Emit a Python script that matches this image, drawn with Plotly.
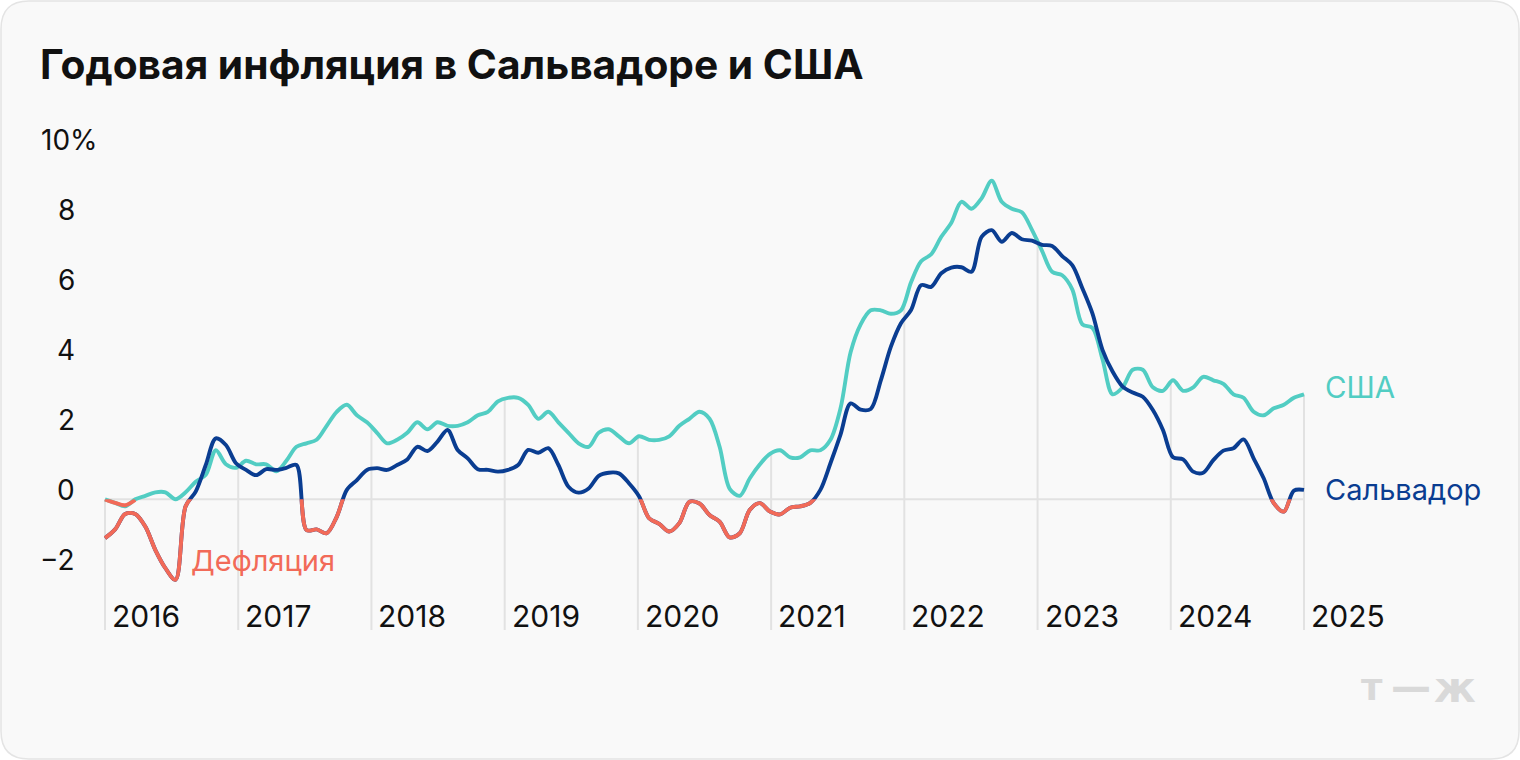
import numpy as np
import plotly.graph_objects as go

# ---------------- data (monthly) ----------------
years = [2016, 2017, 2018, 2019, 2020, 2021, 2022, 2023, 2024, 2025]
year_labels = [str(y) for y in years]

usa = [0.0, -0.1, -0.2, 0.0, 0.1, 0.2, 0.2, 0.0, 0.2, 0.5, 0.7,
       1.4, 1.0, 0.9, 1.1, 1.0, 1.0, 0.8, 1.1, 1.5, 1.6, 1.7, 2.1,
       2.5, 2.7, 2.4, 2.2, 1.9, 1.6, 1.7, 1.9, 2.2, 2.0, 2.2, 2.1,
       2.1, 2.2, 2.4, 2.5, 2.8, 2.9, 2.9, 2.7, 2.3, 2.5, 2.2, 1.9,
       1.6, 1.5, 1.9, 2.0, 1.8, 1.6, 1.8, 1.7, 1.7, 1.8, 2.1, 2.3,
       2.5, 2.3, 1.5, 0.3, 0.1, 0.6, 1.0, 1.3, 1.4, 1.2, 1.2, 1.4,
       1.4, 1.7, 2.6, 4.2, 5.0, 5.4, 5.4, 5.3, 5.4, 6.2, 6.8, 7.0,
       7.5, 7.9, 8.5, 8.3, 8.6, 9.1, 8.5, 8.3, 8.2, 7.7, 7.1, 6.5,
       6.4, 6.0, 5.0, 4.9, 4.0, 3.0, 3.2, 3.7, 3.7, 3.2, 3.1, 3.4,
       3.1, 3.2, 3.5, 3.4, 3.3, 3.0, 2.9, 2.5, 2.4, 2.6, 2.7, 2.9,
       3.0]

salvador = [-1.11, -0.86, -0.42, -0.42, -0.78, -1.45, -1.97, -2.30, -0.20, 0.22,
            0.98, 1.74, 1.55, 1.03, 0.84, 0.69, 0.86, 0.84, 0.90, 0.98,
            -0.88, -0.86, -0.97, -0.50, 0.27, 0.55, 0.84, 0.89, 0.84, 0.98,
            1.14, 1.50, 1.38, 1.65, 1.98, 1.41, 1.17, 0.86, 0.84, 0.79,
            0.84, 0.98, 1.41, 1.33, 1.46, 0.98, 0.36, 0.19, 0.31, 0.67,
            0.76, 0.74, 0.46, 0.09, -0.54, -0.70, -0.92, -0.68, -0.07, -0.12,
            -0.45, -0.64, -1.09, -0.97, -0.30, -0.11, -0.35, -0.43, -0.24, -0.20,
            -0.10, 0.27, 1.03, 1.85, 2.74, 2.56, 2.58, 3.40, 4.36, 5.03,
            5.41, 6.12, 6.07, 6.46, 6.62, 6.63, 6.50, 7.50, 7.69, 7.36,
            7.61, 7.43, 7.39, 7.27, 7.24, 6.95, 6.69, 6.03, 5.31, 4.27,
            3.65, 3.22, 3.05, 2.93, 2.55, 1.98, 1.20, 1.14, 0.79, 0.76,
            1.12, 1.39, 1.46, 1.71, 1.17, 0.60, -0.11, -0.35, 0.25, 0.27]

# small red stroke seen at the very start of the chart
red_start = [0.0, -0.10, -0.17, -0.02]

y_ticks = [10, 8, 6, 4, 2, 0, -2]

# ---------------- geometry ----------------
W, H = 1520, 760
PL, PR, PT, PB = 85, 1320, 120, 640       # plot area in pixels
X0PX, XPERYEAR = 105.0, 1199.0 / 9.0      # 2016 gridline at 105 px
ZEROPX, PXPERUNIT = 499.3, 35.0

x_lo = years[0] - (X0PX - PL) / XPERYEAR
x_hi = years[0] + (PR - X0PX) / XPERYEAR
y_lo = (ZEROPX - PB) / PXPERUNIT
y_hi = (ZEROPX - PT) / PXPERUNIT
zero_frac = (0 - y_lo) / (y_hi - y_lo)

n = len(usa)
xpos = [years[0] + (years[-1] - years[0]) * i / (n - 1) for i in range(n)]

C_US = "#52cdc3"
C_SV = "#0a3d91"
C_RED = "#f26a58"
FONT = "Inter"
LW = 3.9


def pxx(X):
    return (X - PL) / (PR - PL)


def pxy(Y):
    return (PB - Y) / (PB - PT)


fig = go.Figure()
line_kw = dict(width=LW, shape="spline", smoothing=0.9)
fig.add_trace(go.Scatter(x=xpos, y=usa, mode="lines", line=dict(color=C_US, **line_kw),
                         hoverinfo="skip", showlegend=False))
fig.add_trace(go.Scatter(x=xpos, y=salvador, mode="lines", line=dict(color=C_SV, **line_kw),
                         hoverinfo="skip", showlegend=False))
# negative part of El Salvador in red: same line on an axis clipped below zero
fig.add_trace(go.Scatter(x=xpos, y=salvador, mode="lines", line=dict(color=C_RED, **line_kw),
                         yaxis="y2", hoverinfo="skip", showlegend=False))
fig.add_trace(go.Scatter(x=xpos[:len(red_start)], y=red_start, mode="lines",
                         line=dict(color=C_RED, **line_kw),
                         yaxis="y2", hoverinfo="skip", showlegend=False))

shapes = []
# card background with rounded corners
r = 28
X0c, Y0c, X1c, Y1c = 1, 1, W - 1, H - 1


def P(X, Y):
    return f"{pxx(X):.6f},{pxy(Y):.6f}"


path = (f"M {P(X0c + r, Y0c)} L {P(X1c - r, Y0c)} Q {P(X1c, Y0c)} {P(X1c, Y0c + r)} "
        f"L {P(X1c, Y1c - r)} Q {P(X1c, Y1c)} {P(X1c - r, Y1c)} "
        f"L {P(X0c + r, Y1c)} Q {P(X0c, Y1c)} {P(X0c, Y1c - r)} "
        f"L {P(X0c, Y0c + r)} Q {P(X0c, Y0c)} {P(X0c + r, Y0c)} Z")
shapes.append(dict(type="path", path=path, xref="paper", yref="paper", layer="below",
                   fillcolor="#f9f9f9", line=dict(color="#e4e4e4", width=1.5)))

# vertical year lines up to the higher of the two curves
top = np.maximum(np.array(usa), np.array(salvador))
grid_bottom = (ZEROPX - 630) / PXPERUNIT
for yv in years:
    h = float(np.interp(yv, xpos, top))
    shapes.append(dict(type="line", xref="x", yref="y", x0=yv, x1=yv, y0=grid_bottom, y1=h,
                       layer="below", line=dict(color="#e2e2e2", width=2)))
# zero line
shapes.append(dict(type="line", xref="x", yref="y", x0=years[0], x1=years[-1], y0=0, y1=0,
                   layer="below", line=dict(color="#e2e2e2", width=2)))

ann = []
ann.append(dict(text="<b>Годовая инфляция в Сальвадоре и США</b>", xref="paper", yref="paper",
                x=pxx(38), y=pxy(65), xanchor="left", yanchor="middle", showarrow=False,
                font=dict(family=FONT, size=40.7, color="#111111")))
for t in y_ticks:
    if t == max(y_ticks):
        ann.append(dict(text=f"{t}%", xref="paper", yref="y", x=pxx(39), y=t, yshift=9,
                        xanchor="left", yanchor="middle", showarrow=False,
                        font=dict(family=FONT, size=28, color="#111111")))
    else:
        ann.append(dict(text=str(t).replace("-", "−"), xref="paper", yref="y", x=pxx(77), y=t, yshift=9,
                        xanchor="right", yanchor="middle", showarrow=False,
                        font=dict(family=FONT, size=28, color="#111111")))
for yv, lab in zip(years, year_labels):
    ann.append(dict(text=lab, xref="x", yref="paper", x=yv, xshift=5, y=pxy(616),
                    xanchor="left", yanchor="middle", showarrow=False,
                    font=dict(family=FONT, size=30, color="#111111")))
ann.append(dict(text="США", xref="x", yref="y", x=xpos[-1], xshift=19, y=usa[-1], yshift=7,
                xanchor="left", yanchor="middle", showarrow=False,
                font=dict(family=FONT, size=29.5, color=C_US)))
ann.append(dict(text="Сальвадор", xref="x", yref="y", x=xpos[-1], xshift=19, y=salvador[-1], yshift=0,
                xanchor="left", yanchor="middle", showarrow=False,
                font=dict(family=FONT, size=29, color=C_SV)))
ann.append(dict(text="Дефляция", xref="paper", yref="paper", x=pxx(189), y=pxy(560),
                xanchor="left", yanchor="middle", showarrow=False,
                font=dict(family=FONT, size=29, color=C_RED)))
# logo
for ch, cx, sz in [("т", 1372, 37), ("—", 1411, 40), ("ж", 1455, 42)]:
    ann.append(dict(text=f"<b>{ch}</b>", xref="paper", yref="paper", x=pxx(cx), y=pxy(687),
                    xanchor="center", yanchor="middle", showarrow=False,
                    font=dict(family="DejaVu Sans", size=sz, color="#d9d9d9")))

fig.update_layout(
    width=W, height=H,
    margin=dict(l=PL, r=W - PR, t=PT, b=H - PB, pad=0),
    paper_bgcolor="white", plot_bgcolor="rgba(0,0,0,0)",
    xaxis=dict(range=[x_lo, x_hi], visible=False, fixedrange=True),
    yaxis=dict(range=[y_lo, y_hi], domain=[0, 1], visible=False, fixedrange=True),
    yaxis2=dict(range=[y_lo, 0], domain=[0, zero_frac], anchor="x", visible=False, fixedrange=True),
    shapes=shapes, annotations=ann, showlegend=False,
)

fig.write_html("out.html", config={"displayModeBar": False},
               post_script="document.body.style.margin='0';document.body.style.padding='0';"
                           "document.documentElement.style.overflow='hidden';")
